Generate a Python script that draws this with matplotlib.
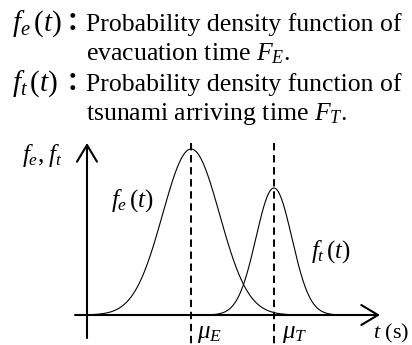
import numpy as np
import matplotlib
matplotlib.use("Agg")
import matplotlib.pyplot as plt

plt.rcParams['font.family'] = ['Liberation Serif', 'DejaVu Serif']
plt.rcParams['mathtext.fontset'] = 'custom'
plt.rcParams['mathtext.rm'] = 'Liberation Serif'
plt.rcParams['mathtext.it'] = 'Liberation Serif:italic'

# schematic normal pdfs (mean, sd, peak height)
mu_e, sd_e, peak_e = 3.47, 0.95, 1.0
mu_t, sd_t, peak_t = 6.23, 0.60, 0.765
t_e = np.linspace(0.0, 6.75, 300)
t_t = np.linspace(3.6, 8.75, 300)

header = [
    (r"$f_{e}\,(t)$", "Probability density function of", "evacuation time $F_E$."),
    (r"$f_{t}\,(t)$", "Probability density function of", "tsunami arriving time $F_T$."),
]

W, H = 412, 345
fig = plt.figure(figsize=(W / 100, H / 100), dpi=100)
ax = fig.add_axes([0, 0, 1, 1])
ax.set_xlim(-87 / 30, (W - 87) / 30)
ax.set_ylim(-(H - 315) / 166, 315 / 166)
ax.axis('off')


def px(x, y):
    return x / W, 1 - y / H


fs = 18.5
for i, (sym, l1, l2) in enumerate(header):
    y0 = 31 + i * 60
    fig.text(*px(12, y0), sym, fontsize=21, va='baseline')
    fig.text(*px(73, y0), "\uff1a", fontsize=fs, va='baseline', ha='center',
             family=['Noto Sans CJK JP', 'DejaVu Sans'], weight='bold')
    fig.text(*px(86, y0), l1, fontsize=fs, va='baseline')
    fig.text(*px(86, y0 + 29), l2, fontsize=fs, va='baseline')

# curves
fe = peak_e * np.exp(-0.5 * ((t_e - mu_e) / sd_e) ** 2)
ft = peak_t * np.exp(-0.5 * ((t_t - mu_t) / sd_t) ** 2)
ax.plot(t_e, fe, color='black', lw=0.8)
ax.plot(t_t, ft, color='black', lw=0.8)

# axes arrows
ytop = (315 - 143) / 166
ybot = -(338 - 315) / 166
arrow = dict(arrowstyle='->,head_length=0.6,head_width=0.36', lw=1.5,
             color='black', shrinkA=0, shrinkB=0, mutation_scale=20)
ax.annotate('', xy=(0, ytop), xytext=(0, ybot), arrowprops=arrow)
ax.annotate('', xy=((380 - 87) / 30, 0), xytext=((75 - 87) / 30, 0), arrowprops=arrow)

# mean lines
for m in (mu_e, mu_t):
    ax.plot([m, m], [ytop, -(H - 315) / 166], color='black', lw=1.4,
            dashes=(3.8, 2.4))

fig.text(*px(22, 162), r"$f_{e}{,}\;f_{t}$", fontsize=18, va='baseline')
fig.text(*px(111, 207), r"$f_{e}\,(t)$", fontsize=18, va='baseline')
fig.text(*px(311, 258), r"$f_{t}\,(t)$", fontsize=18, va='baseline')
fig.text(*px(197, 338), r"$\mu_E$", fontsize=18, va='baseline')
fig.text(*px(282, 338), r"$\mu_T$", fontsize=18, va='baseline')
fig.text(*px(409, 338), "$t$ (s)", fontsize=16, va='baseline', ha='right')

fig.savefig('out.png', dpi=100)
